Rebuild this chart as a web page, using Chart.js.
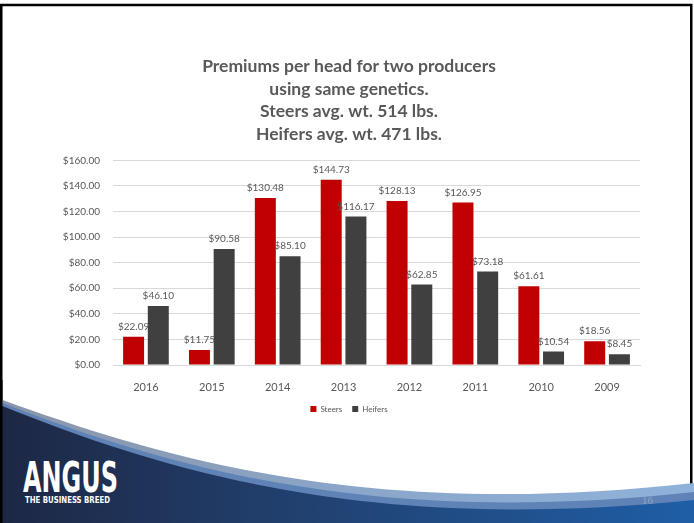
<!DOCTYPE html>
<html lang="en">
<head>
    <meta charset="UTF-8">
    <title>Premiums per head</title>
    <script src="https://cdn.jsdelivr.net/npm/chart.js"></script>
    <style>
        body { margin: 0; background: #fff; }
        #slide { position: relative; width: 694px; height: 523px; overflow: hidden; }
        #bg, #wrap { position: absolute; left: 0; top: 0; width: 694px; height: 523px; }
    </style>
</head>
<body>
<div id="slide">
    <svg id="bg" width="694" height="523" xmlns="http://www.w3.org/2000/svg">
        <defs>
            <linearGradient id="band" x1="0" x2="1" y1="0" y2="0">
                <stop offset="0" stop-color="#8c95a8"/>
                <stop offset="0.5" stop-color="#8aa6c9"/>
                <stop offset="1" stop-color="#8fb2da"/>
            </linearGradient>
            <linearGradient id="navy" x1="0" x2="1" y1="0" y2="0">
                <stop offset="0" stop-color="#1d2744"/>
                <stop offset="0.4" stop-color="#213f6c"/>
                <stop offset="1" stop-color="#1f5ea6"/>
            </linearGradient>
        </defs>
        <rect width="694" height="523" fill="#fff"/>
        <rect x="1.25" y="5" width="690" height="530" fill="none" stroke="#000" stroke-width="2.5"/>
        <path d="M0,399 C180,465 380,518 694,483 L694,523 L0,523 Z" fill="url(#band)"/>
        <path d="M0,402 C180,472 380,526 694,492 L694,523 L0,523 Z" fill="#5f83b6"/>
        <path d="M0,405 C180,478 380,532 694,500 L694,523 L0,523 Z" fill="url(#navy)"/>
        <rect x="0" y="380" width="2.5" height="143" fill="#000"/>
        <text x="23" y="492" font-family="DejaVu Sans Condensed, DejaVu Sans" font-weight="bold" font-size="42" fill="#fff" textLength="95" lengthAdjust="spacingAndGlyphs">ANGUS</text>
        <text x="25" y="503" font-family="DejaVu Sans Condensed, DejaVu Sans" font-weight="bold" font-size="9" fill="#fff" textLength="85" lengthAdjust="spacingAndGlyphs">THE BUSINESS BREED</text>
        <text x="642" y="504" font-family="Liberation Serif" font-size="11" fill="#8ea3c2">16</text>
    </svg>
    <div id="wrap"><canvas id="chart" width="694" height="523"></canvas></div>
</div>

<script>
    const years = ['2016', '2015', '2014', '2013', '2012', '2011', '2010', '2009'];
    const steers = [22.09, 11.75, 130.48, 144.73, 128.13, 126.95, 61.61, 18.56];
    const heifers = [46.10, 90.58, 85.10, 116.17, 62.85, 73.18, 10.54, 8.45];
    const titleLines = ['Premiums per head for two producers', 'using same genetics.', 'Steers avg. wt. 514 lbs.', 'Heifers avg. wt. 471 lbs.'];

    const grey = '#595959';
    const fontName = 'Lato';

    // value labels above each bar
    const barLabels = {
        id: 'barLabels',
        afterDatasetsDraw(chart) {
            const ctx = chart.ctx;
            ctx.save();
            ctx.font = '10px ' + fontName;
            ctx.fillStyle = grey;
            ctx.textAlign = 'center';
            ctx.textBaseline = 'bottom';
            chart.data.datasets.forEach((ds, i) => {
                chart.getDatasetMeta(i).data.forEach((bar, j) => {
                    ctx.fillText('$' + ds.data[j].toFixed(2), bar.x, bar.y - 5);
                });
            });
            ctx.restore();
        }
    };

    new Chart(document.getElementById('chart'), {
        type: 'bar',
        data: {
            labels: years,
            datasets: [
                { label: 'Steers', data: steers, backgroundColor: '#c00000' },
                { label: 'Heifers', data: heifers, backgroundColor: '#404040' }
            ]
        },
        options: {
            responsive: false,
            animation: false,
            datasets: { bar: { categoryPercentage: 0.75, barPercentage: 0.85 } },
            layout: { padding: { left: 58, right: 54, top: 55, bottom: 100 } },
            scales: {
                x: {
                    grid: { display: false },
                    border: { color: '#d9d9d9' },
                    ticks: { color: grey, font: { family: fontName, size: 11 }, padding: 8 },
                    afterFit: s => { s.height = 30; }
                },
                y: {
                    min: 0,
                    max: 160,
                    ticks: {
                        stepSize: 20,
                        color: grey,
                        padding: 13,
                        font: { family: fontName, size: 10 },
                        callback: v => '$' + v.toFixed(2)
                    },
                    grid: { color: '#d9d9d9', drawTicks: false },
                    border: { display: false },
                    afterFit: s => { s.width = 55; }
                }
            },
            plugins: {
                title: {
                    display: true,
                    text: titleLines,
                    color: grey,
                    font: { family: fontName, size: 17.5, weight: 'bold', lineHeight: 1.29 },
                    padding: { top: 0, bottom: 15 }
                },
                legend: {
                    position: 'bottom',
                    labels: {
                        color: grey,
                        font: { family: fontName, size: 8 },
                        usePointStyle: true,
                        pointStyle: 'rect',
                        boxWidth: 6,
                        boxHeight: 6,
                        padding: 10
                    }
                },
                tooltip: { enabled: false }
            }
        },
        plugins: [barLabels]
    });
</script>
</body>
</html>
